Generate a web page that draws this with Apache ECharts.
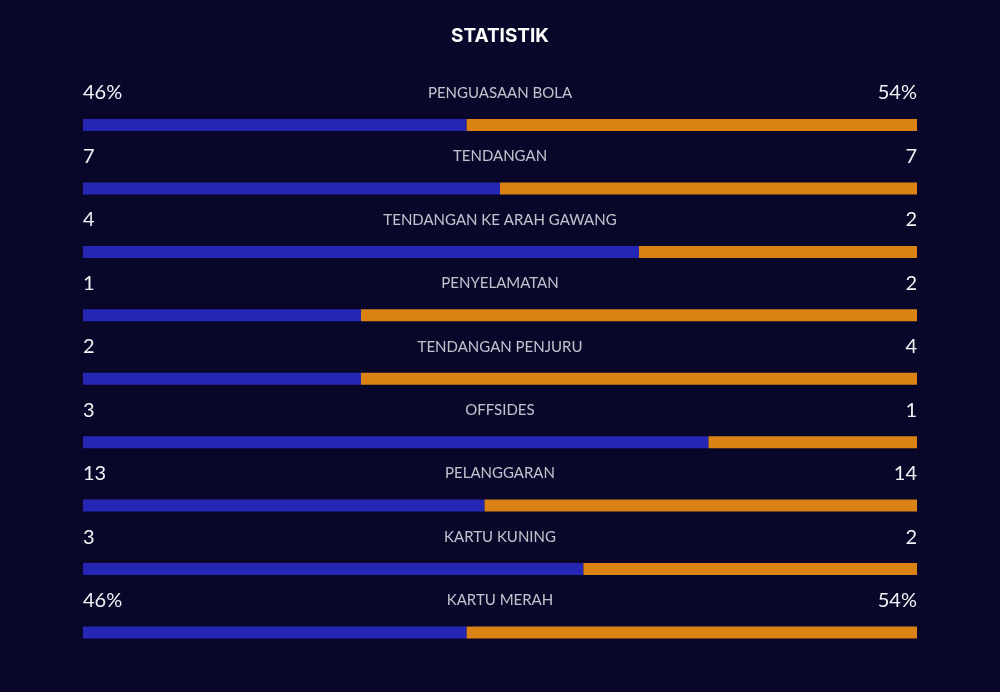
<!DOCTYPE html>
<html><head><meta charset="utf-8">
<script src="https://cdn.jsdelivr.net/npm/echarts@6/dist/echarts.min.js"></script>
<style>html,body{margin:0;padding:0;background:#08072a;}#c{width:1000px;height:692px;}</style>
</head><body><div id="c"></div>
<script>
const categories = ['PENGUASAAN BOLA','TENDANGAN','TENDANGAN KE ARAH GAWANG','PENYELAMATAN','TENDANGAN PENJURU','OFFSIDES','PELANGGARAN','KARTU KUNING','KARTU MERAH'];
const homeValues = [46,7,4,1,2,3,13,3,46];
const awayValues = [54,7,2,2,4,1,14,2,54];
const homeLabels = ['46%','7','4','1','2','3','13','3','46%'];
const awayLabels = ['54%','7','2','2','4','1','14','2','54%'];

const homeShare = homeValues.map((v,i)=> v/(v+awayValues[i])*100);
const awayShare = awayValues.map((v,i)=> v/(homeValues[i]+v)*100);

const chart = echarts.init(document.getElementById('c'));
chart.setOption({
  backgroundColor:'#08072a',
  animation:false,
  title:{text:'STATISTIK',left:'center',top:22,textStyle:{color:'#ffffff',fontSize:19,fontWeight:'bold',fontFamily:'Inter',letterSpacing:0.5}},
  grid:{left:83,right:83,top:93.3,bottom:27.8},
  xAxis:{type:'value',min:0,max:100,show:false},
  yAxis:{type:'category',data:categories,inverse:true,show:false},
  series:[
    {type:'bar',stack:'s',barWidth:12,itemStyle:{color:'#2626b5'},
     data:homeShare.map((v,i)=>({value:v,label:{formatter:homeLabels[i]}})),
     label:{show:true,position:[0,-26],align:'left',verticalAlign:'middle',color:'#f2f2f6',fontSize:20,fontFamily:'Lato'}},
    {type:'bar',stack:'s',barWidth:12,itemStyle:{color:'#db8214'},
     data:awayShare.map((v,i)=>({value:v,label:{formatter:awayLabels[i]}})),
     label:{show:true,position:['100%',-26],align:'right',verticalAlign:'middle',color:'#f2f2f6',fontSize:20,fontFamily:'Lato'}},
    {type:'scatter',symbolSize:0,silent:true,
     data:categories.map((c,i)=>[50,c]),
     label:{show:true,position:'inside',offset:[0,-32],formatter:p=>p.value[1],color:'#f0f0f5',fontSize:15,fontFamily:'Lato'}}
  ]
});
</script></body></html>
